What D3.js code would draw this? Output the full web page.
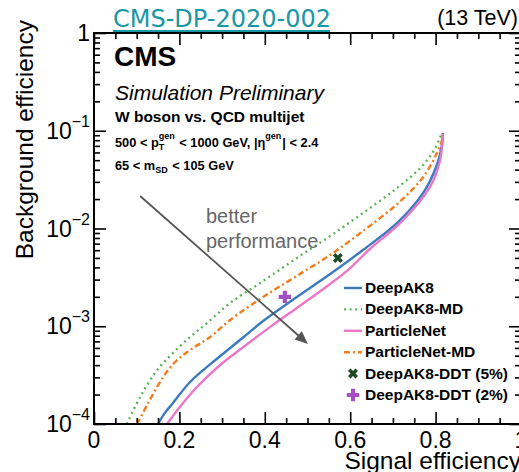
<!DOCTYPE html>
<html>
<head>
<meta charset="utf-8">
<script src="https://cdn.jsdelivr.net/npm/d3@7"></script>
<style>
  body { margin: 0; background: #fff; }
  svg { display: block; font-family: "Liberation Sans", Arial, sans-serif; }
</style>
</head>
<body>
<svg id="chart" width="519" height="472"></svg>
<script>
// ROC curves (signal eff, background eff)
const deepak8_x = [0.150, 0.166, 0.185, 0.225, 0.290, 0.342, 0.396, 0.475, 0.553, 0.630, 0.710, 0.771, 0.803, 0.815, 0.817];
const deepak8_y = [1e-4, 1.30e-4, 1.64e-4, 2.69e-4, 4.73e-4, 7.23e-4, 1.13e-3, 1.99e-3, 3.42e-3, 6.03e-3, 0.0114, 0.0231, 0.0446, 0.0715, 0.095];

const deepak8md_x = [0.077, 0.108, 0.148, 0.185, 0.225, 0.265, 0.319, 0.396, 0.475, 0.553, 0.630, 0.710, 0.764, 0.794, 0.810, 0.815];
const deepak8md_y = [1e-4, 1.89e-4, 3.57e-4, 5.33e-4, 7.76e-4, 1.08e-3, 1.73e-3, 2.90e-3, 4.99e-3, 8.38e-3, 0.0144, 0.0260, 0.0416, 0.0606, 0.0843, 0.097];

const particlenet_x = [0.171, 0.201, 0.241, 0.290, 0.319, 0.412, 0.475, 0.553, 0.600, 0.646, 0.724, 0.787, 0.810, 0.817];
const particlenet_y = [1e-4, 1.49e-4, 2.39e-4, 3.83e-4, 4.85e-4, 9.8e-4, 1.54e-3, 2.71e-3, 3.94e-3, 6.17e-3, 0.0122, 0.0266, 0.0490, 0.0926];

const particlenetmd_x = [0.101, 0.127, 0.162, 0.190, 0.225, 0.272, 0.319, 0.396, 0.475, 0.553, 0.630, 0.710, 0.771, 0.803, 0.815, 0.817];
const particlenetmd_y = [1e-4, 1.64e-4, 3.03e-4, 4.31e-4, 5.71e-4, 7.76e-4, 1.16e-3, 1.99e-3, 3.27e-3, 5.36e-3, 9.43e-3, 0.0178, 0.0336, 0.0592, 0.0804, 0.0948];

// single working points
const ddt5 = [0.571, 5.0e-3];
const ddt2 = [0.447, 2.0e-3];

const series_names = ["DeepAK8", "DeepAK8-MD", "ParticleNet", "ParticleNet-MD"];
const series_colors = ["#3b7bbd", "#5fb35c", "#ec76c6", "#f07d1e"];
const series_dash = [null, "2,3.6", null, "6,3,2,3"];
const marker_names = ["DeepAK8-DDT (5%)", "DeepAK8-DDT (2%)"];
const marker_colors = ["#1d4a25", "#a24fc8"];

const x_ticks = [0, 0.2, 0.4, 0.6, 0.8, 1];
const x_tick_labels = ["0", "0.2", "0.4", "0.6", "0.8", "1"];
const y_ticks = [1e-4, 1e-3, 1e-2, 1e-1, 1];
const y_tick_exps = ["\u22124", "\u22123", "\u22122", "\u22121", ""];

// arrow annotation (data coords)
const arrow_from = [0.108, 0.0215];
const arrow_to = [0.501, 6.6e-4];

const svg = d3.select("#chart");
const m_left = 94, m_right = 521, m_top = 33, m_bottom = 424;

const x = d3.scaleLinear().domain([0, 1]).range([m_left, m_right]);
const y = d3.scaleLog().domain([1e-4, 1]).range([m_bottom, m_top]);

const x_minor = d3.range(0, 1.0001, 0.05).filter(v => Math.abs(v * 5 - Math.round(v * 5)) > 1e-6);
const y_minor = [];
[1e-4, 1e-3, 1e-2, 1e-1].forEach(d => { for (let k = 2; k <= 9; k++) y_minor.push(d * k); });

svg.append("defs").append("clipPath").attr("id", "plot")
    .append("rect").attr("x", m_left).attr("y", m_top).attr("width", m_right - m_left).attr("height", m_bottom - m_top);

// curves
const curves = [
    [deepak8md_x, deepak8md_y, 1],
    [particlenetmd_x, particlenetmd_y, 3],
    [deepak8_x, deepak8_y, 0],
    [particlenet_x, particlenet_y, 2]
];
const line = d3.line().x(d => x(d[0])).y(d => y(d[1])).curve(d3.curveCatmullRom.alpha(0.5));

const plot = svg.append("g").attr("clip-path", "url(#plot)");
curves.forEach(c => {
    const pts = c[0].map((v, i) => [v, c[1][i]]);
    plot.append("path")
        .attr("d", line(pts))
        .attr("fill", "none")
        .attr("stroke", series_colors[c[2]])
        .attr("stroke-width", 2.4)
        .attr("stroke-dasharray", series_dash[c[2]]);
});

// markers
const xSym = d3.symbol().type(d3.symbolCross).size(62);
const plusSym = d3.symbol().type(d3.symbolCross).size(85);
plot.append("path").attr("d", xSym())
    .attr("transform", `translate(${x(ddt5[0])},${y(ddt5[1])}) rotate(45)`)
    .attr("fill", marker_colors[0]);
plot.append("path").attr("d", plusSym())
    .attr("transform", `translate(${x(ddt2[0])},${y(ddt2[1])})`)
    .attr("fill", marker_colors[1]);

// arrow
const ax1 = x(arrow_from[0]), ay1 = y(arrow_from[1]);
const ax2 = x(arrow_to[0]), ay2 = y(arrow_to[1]);
const ang = Math.atan2(ay2 - ay1, ax2 - ax1);
const head = 13, hw = 5.5;
svg.append("line")
    .attr("x1", ax1).attr("y1", ay1)
    .attr("x2", ax2 - Math.cos(ang) * head * 0.8).attr("y2", ay2 - Math.sin(ang) * head * 0.8)
    .attr("stroke", "#555").attr("stroke-width", 1.8);
svg.append("path")
    .attr("d", d3.line()([
        [ax2, ay2],
        [ax2 - Math.cos(ang) * head - Math.sin(ang) * hw, ay2 - Math.sin(ang) * head + Math.cos(ang) * hw],
        [ax2 - Math.cos(ang) * head + Math.sin(ang) * hw, ay2 - Math.sin(ang) * head - Math.cos(ang) * hw]
    ]) + "Z")
    .attr("fill", "#555");

svg.append("text").attr("x", 206).attr("y", 223)
    .attr("font-size", 20).attr("fill", "#666").text("better");
svg.append("text").attr("x", 206).attr("y", 248)
    .attr("font-size", 20).attr("fill", "#666").text("performance");

// axes: ticks point inward
function drawTicks(axis, pos) {
    return svg.append("g").attr("transform", pos).call(axis)
        .call(g => g.select(".domain").remove())
        .call(g => g.selectAll(".tick line").attr("stroke", "#000").attr("stroke-width", 1.6));
}
const noLabel = () => "";
drawTicks(d3.axisBottom(x).tickValues(x_ticks).tickSize(-12).tickFormat(noLabel), `translate(0,${m_bottom})`);
drawTicks(d3.axisBottom(x).tickValues(x_minor).tickSize(-6).tickFormat(noLabel), `translate(0,${m_bottom})`);
drawTicks(d3.axisTop(x).tickValues(x_ticks).tickSize(-12).tickFormat(noLabel), `translate(0,${m_top})`);
drawTicks(d3.axisTop(x).tickValues(x_minor).tickSize(-6).tickFormat(noLabel), `translate(0,${m_top})`);
drawTicks(d3.axisLeft(y).tickValues(y_ticks).tickSize(-12).tickFormat(noLabel), `translate(${m_left},0)`);
drawTicks(d3.axisLeft(y).tickValues(y_minor).tickSize(-6).tickFormat(noLabel), `translate(${m_left},0)`);
drawTicks(d3.axisRight(y).tickValues(y_ticks).tickSize(-12).tickFormat(noLabel), `translate(${m_right},0)`);
drawTicks(d3.axisRight(y).tickValues(y_minor).tickSize(-6).tickFormat(noLabel), `translate(${m_right},0)`);

svg.append("rect")
    .attr("x", m_left).attr("y", m_top).attr("width", m_right - m_left).attr("height", m_bottom - m_top)
    .attr("fill", "none").attr("stroke", "#000").attr("stroke-width", 2);

// tick labels
svg.append("g").selectAll("text").data(x_ticks).join("text")
    .attr("x", d => x(d)).attr("y", m_bottom + 24)
    .attr("text-anchor", "middle").attr("font-size", 23)
    .text((d, i) => x_tick_labels[i]);

y_ticks.forEach((v, i) => {
    const t = svg.append("text")
        .attr("x", m_left - 4).attr("y", y(v) + 8)
        .attr("text-anchor", "end").attr("font-size", 23);
    if (y_tick_exps[i] === "") {
        t.text("1");
    } else {
        t.append("tspan").text("10");
        t.append("tspan").attr("dy", -12).attr("font-size", 16).text(y_tick_exps[i]);
    }
});

// axis titles
svg.append("text")
    .attr("x", m_right).attr("y", 469)
    .attr("text-anchor", "end").attr("font-size", 24.5)
    .text("Signal efficiency");
svg.append("text")
    .attr("transform", "translate(33,20) rotate(-90)")
    .attr("text-anchor", "end").attr("font-size", 24.5)
    .text("Background efficiency");

// header
svg.append("text")
    .attr("x", 113).attr("y", 27)
    .attr("font-family", "DejaVu Sans").attr("font-size", 24)
    .attr("fill", "#1a97a4")
    .text("CMS-DP-2020-002");
svg.append("line").attr("x1", 113).attr("x2", 330).attr("y1", 31).attr("y2", 31)
    .attr("stroke", "#1a97a4").attr("stroke-width", 2);
svg.append("text")
    .attr("x", 518).attr("y", 25).attr("text-anchor", "end")
    .attr("font-size", 21.5).text("(13 TeV)");

// labels inside frame
svg.append("text").attr("x", 114).attr("y", 66)
    .attr("font-size", 28).attr("font-weight", "bold").text("CMS");
svg.append("text").attr("x", 115).attr("y", 100)
    .attr("font-size", 21).attr("font-style", "italic").text("Simulation Preliminary");
svg.append("text").attr("x", 115).attr("y", 122)
    .attr("font-size", 15.5).attr("font-weight", "bold").text("W boson vs. QCD multijet");

function smallLine(x0, y0, parts) {
    let cx = x0;
    parts.forEach(p => {
        if (p.stack) {
            const a = svg.append("text").attr("x", cx).attr("y", y0 - 8)
                .attr("font-size", 9).attr("font-weight", "bold").text(p.sup);
            const b = svg.append("text").attr("x", cx).attr("y", y0 + 3)
                .attr("font-size", 9).attr("font-weight", "bold").text(p.sub || "");
            cx += Math.max(a.node().getComputedTextLength(), b.node().getComputedTextLength()) + 1;
        } else {
            const t = svg.append("text").attr("x", cx).attr("y", y0)
                .attr("font-size", 12.8).attr("font-weight", "bold")
                .style("white-space", "pre").text(p.text);
            cx += t.node().getComputedTextLength();
        }
    });
}
smallLine(115, 147, [
    { text: "500 < p" }, { stack: true, sup: "gen", sub: "T" },
    { text: " < 1000 GeV, |\u03b7" }, { stack: true, sup: "gen" }, { text: "| < 2.4" }
]);
smallLine(115, 170, [
    { text: "65 < m" }, { stack: true, sup: "", sub: "SD" }, { text: " < 105 GeV" }
]);

// legend
const lg = svg.append("g");
const row0 = 293, rowH = 21.4;
series_names.forEach((n, i) => {
    const yy = row0 + i * rowH - 5;
    lg.append("line").attr("x1", 344).attr("x2", 362).attr("y1", yy).attr("y2", yy)
        .attr("stroke", series_colors[i]).attr("stroke-width", 2.4)
        .attr("stroke-dasharray", series_dash[i]);
});
marker_names.forEach((n, i) => {
    const yy = row0 + (i + 4) * rowH - 5;
    lg.append("path").attr("d", i === 0 ? xSym() : plusSym())
        .attr("transform", `translate(353,${yy})` + (i === 0 ? " rotate(45)" : ""))
        .attr("fill", marker_colors[i]);
});
lg.selectAll("text").data(series_names.concat(marker_names)).join("text")
    .attr("x", 365).attr("y", (d, i) => row0 + i * rowH)
    .attr("font-size", 15.5).attr("font-weight", "bold")
    .text(d => d);
</script>
</body>
</html>
